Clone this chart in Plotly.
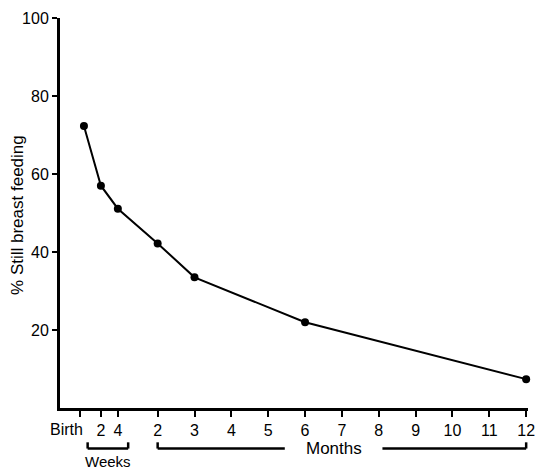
import plotly.graph_objects as go

# Age in months (2 weeks ~ 0.46, 4 weeks ~ 0.92)
ages = [0, 0.46, 0.92, 2, 3, 6, 12]
pct_breast_feeding = [72.3, 57.0, 51.1, 42.2, 33.5, 22.0, 7.4]

x_tick_vals = [-0.12, 0.46, 0.92, 2, 3, 4, 5, 6, 7, 8, 9, 10, 11, 12]
x_tick_text = ["Birth", "2", "4", "2", "3", "4", "5", "6", "7", "8", "9", "10", "11", "12"]
y_tick_vals = [20, 40, 60, 80, 100]

weeks_span = (0.1, 1.2)
months_spans = [(2.0, 5.45), (8.1, 12.0)]

FONT = "Liberation Sans, Arial, sans-serif"

fig = go.Figure()
fig.add_trace(go.Scatter(
    x=ages, y=pct_breast_feeding, mode="lines+markers",
    line=dict(color="black", width=2),
    marker=dict(color="black", size=8),
    showlegend=False, cliponaxis=False,
))

shapes = []
def bracket(x0, x1, left_hook=True, right_hook=True):
    yl, yh = -0.104, -0.088
    s = [dict(type="line", xref="x", yref="paper", x0=x0, x1=x1, y0=yl, y1=yl,
              line=dict(color="black", width=2.5))]
    if left_hook:
        s.append(dict(type="line", xref="x", yref="paper", x0=x0, x1=x0, y0=yl, y1=yh,
                      line=dict(color="black", width=2.5)))
    if right_hook:
        s.append(dict(type="line", xref="x", yref="paper", x0=x1, x1=x1, y0=yl, y1=yh,
                      line=dict(color="black", width=2.5)))
    return s

shapes += bracket(*weeks_span)
shapes += bracket(months_spans[0][0], months_spans[0][1], True, False)
shapes += bracket(months_spans[1][0], months_spans[1][1], False, True)

# "Birth" label drawn right-aligned at its tick (as in the original)
tick_text_shown = [""] + x_tick_text[1:]

annotations = [
    dict(text=x_tick_text[0], xref="x", yref="paper", x=x_tick_vals[0], y=-0.056,
         xanchor="right", yanchor="middle", xshift=5, showarrow=False,
         font=dict(size=16, color="black", family=FONT)),
    dict(text="Weeks", xref="x", yref="paper", x=(weeks_span[0] + weeks_span[1]) / 2,
         y=-0.137, xanchor="center", yanchor="middle", showarrow=False,
         font=dict(size=15, color="black", family=FONT)),
    dict(text="Months", xref="x", yref="paper", x=6.78, y=-0.105,
         xanchor="center", yanchor="middle", showarrow=False,
         font=dict(size=17, color="black", family=FONT)),
    dict(text="% Still breast feeding", xref="paper", yref="paper", x=0, y=0.495,
         xanchor="center", yanchor="middle", xshift=-42, textangle=-90, showarrow=False,
         font=dict(size=17, color="black", family=FONT)),
]

fig.update_layout(
    width=538, height=469,
    margin=dict(l=60, r=3, t=18, b=61),
    paper_bgcolor="white", plot_bgcolor="white",
    font=dict(family=FONT, color="black", size=16),
    shapes=shapes, annotations=annotations,
    xaxis=dict(range=[-0.65, 12.05], tickmode="array", tickvals=x_tick_vals,
               ticktext=tick_text_shown, showgrid=False, zeroline=False,
               showline=True, linecolor="black", linewidth=3,
               ticks="outside", ticklen=6, tickwidth=2, tickcolor="black",
               tickfont=dict(size=16), tickangle=0, ticklabeloverflow="allow"),
    yaxis=dict(range=[0, 100], tickmode="array", tickvals=y_tick_vals,
               showgrid=False, zeroline=False,
               showline=True, linecolor="black", linewidth=3,
               ticks="outside", ticklen=5, tickwidth=2, tickcolor="black",
               tickfont=dict(size=16)),
)

fig.write_html("out.html")
